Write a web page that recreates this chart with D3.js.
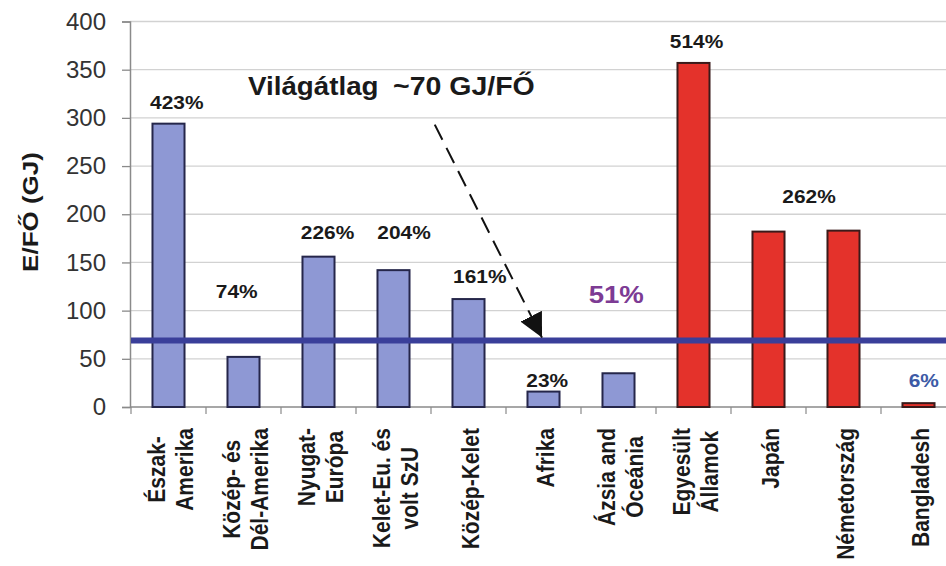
<!DOCTYPE html>
<html>
<head>
<meta charset="utf-8">
<script src="https://cdn.jsdelivr.net/npm/d3@7"></script>
<style>
  body { margin: 0; background: white; }
  svg { display: block; font-family: "Liberation Sans", Arial, sans-serif; }
</style>
</head>
<body>
<div id="chart"></div>
<script>
// categories (line breaks as in the original labels)
var categories = ['Észak-\nAmerika', 'Közép- és\nDél-Amerika', 'Nyugat-\nEurópa', 'Kelet-Eu. és\nvolt SzU',
    'Közép-Kelet', 'Afrika', 'Ázsia and\nÓceánia', 'Egyesült\nÁllamok', 'Japán', 'Németország', 'Bangladesh'];
// energy per capita, GJ
var values = [294, 52, 156, 142, 112, 16, 35, 357, 182, 183, 4];
// which bars are countries (red) and which are regions (blue)
var isCountry = [false, false, false, false, false, false, false, true, true, true, true];
var yTicks = [0, 50, 100, 150, 200, 250, 300, 350, 400];
var worldAvg = 69;

// percent labels: text, position in band units, height in GJ, colour
var pctText = ['423%', '74%', '226%', '204%', '161%', '23%', '51%', '514%', '262%', '6%'];
var pctPos = [0.61, 1.41, 2.62, 3.64, 4.65, 5.55, 6.47, 7.54, 9.04, 10.57];
var pctVal = [309, 113, 174, 174, 129, 21, 108, 372, 212, 21];
var pctColor = ['#1a1a1a', '#1a1a1a', '#1a1a1a', '#1a1a1a', '#1a1a1a', '#1a1a1a', '#7d3b94', '#1a1a1a', '#1a1a1a', '#3d5aa6'];

var svgWidth = 946,
    svgHeight = 566;

var svg = d3.select('#chart').append('svg')
    .attr('width', svgWidth)
    .attr('height', svgHeight)
    .style('background', 'white');

var x = d3.scaleBand()
    .domain(categories)
    .range([131, 956])
    .paddingInner(0.573)
    .paddingOuter(0.2865);

var y = d3.scaleLinear()
    .domain([0, 400])
    .range([407, 21.5]);

// position in band units -> pixels
function bx(u) { return x.range()[0] + u * x.step(); }

// gridlines
svg.append('g')
    .selectAll('line')
    .data(yTicks.slice(1))
    .enter().append('line')
    .attr('x1', 130).attr('x2', svgWidth)
    .attr('y1', d => y(d)).attr('y2', d => y(d))
    .attr('stroke', '#d2d2d2').attr('stroke-width', 1.3);

// y axis
var yAxis = svg.append('g')
    .attr('transform', 'translate(130,0)')
    .call(d3.axisLeft(y).tickValues(yTicks).tickSize(8).tickPadding(16));
yAxis.select('.domain').attr('stroke', '#8a8a8a').attr('stroke-width', 1.5);
yAxis.selectAll('.tick line').attr('stroke', '#8a8a8a').attr('stroke-width', 1.3);
yAxis.selectAll('.tick text')
    .attr('fill', '#333').attr('font-size', '24px')
    .attr('font-family', '"Liberation Sans", Arial, sans-serif');

// x baseline and boundary ticks
svg.append('line')
    .attr('x1', 130).attr('x2', svgWidth)
    .attr('y1', y(0)).attr('y2', y(0))
    .attr('stroke', '#8a8a8a').attr('stroke-width', 1.5);
svg.append('g')
    .selectAll('line')
    .data(d3.range(categories.length + 1))
    .enter().append('line')
    .attr('x1', d => bx(d)).attr('x2', d => bx(d))
    .attr('y1', y(0)).attr('y2', y(0) + 7)
    .attr('stroke', '#8a8a8a').attr('stroke-width', 1.2);

// bars
svg.append('g')
    .selectAll('rect')
    .data(values)
    .enter().append('rect')
    .attr('x', (d, i) => x(categories[i]))
    .attr('y', d => y(d))
    .attr('width', x.bandwidth())
    .attr('height', d => y(0) - y(d))
    .attr('fill', (d, i) => isCountry[i] ? '#e4322b' : '#8e98d4')
    .attr('stroke', (d, i) => isCountry[i] ? '#3a1a1a' : '#25264a')
    .attr('stroke-width', 2);

// world average line
svg.append('line')
    .attr('x1', 131).attr('x2', svgWidth)
    .attr('y1', y(worldAvg)).attr('y2', y(worldAvg))
    .attr('stroke', '#3a3f9a').attr('stroke-width', 6);

// percent labels (text in the original is a bit wide, hence the x scale)
svg.append('g')
    .selectAll('text')
    .data(pctText)
    .enter().append('text')
    .text(d => d)
    .attr('transform', (d, i) => 'translate(' + bx(pctPos[i]) + ',' + y(pctVal[i]) + ') scale(' + (i == 6 ? 1.2 : 1.13) + ',1)')
    .attr('text-anchor', 'middle')
    .attr('font-weight', 'bold')
    .attr('font-size', (d, i) => i == 6 ? '23px' : '18.5px')
    .attr('fill', (d, i) => pctColor[i]);

// world average annotation
svg.append('text')
    .text('Világátlag')
    .attr('transform', 'translate(248,95) scale(1.11,1)')
    .attr('font-weight', 'bold').attr('font-size', '25px').attr('fill', '#1a1a1a');
svg.append('text')
    .text('~70 GJ/FŐ')
    .attr('transform', 'translate(393,95) scale(1.14,1)')
    .attr('font-weight', 'bold').attr('font-size', '25px').attr('fill', '#1a1a1a');

//dashed arrow
svg.append('defs').append('marker')
    .attr('id', 'head')
    .attr('viewBox', '0 0 10 10')
    .attr('refX', 10).attr('refY', 5)
    .attr('markerWidth', 24).attr('markerHeight', 24)
    .attr('markerUnits', 'userSpaceOnUse')
    .attr('orient', 'auto')
    .append('path')
    .attr('d', 'M0,0 L10,5 L0,10 Z')
    .attr('fill', '#111');

svg.append('line')
    .attr('x1', bx(4.05)).attr('y1', y(293))
    .attr('x2', bx(5.48)).attr('y2', y(72))
    .attr('stroke', '#111').attr('stroke-width', 2)
    .attr('stroke-dasharray', '17,9')
    .attr('marker-end', 'url(#head)');

// x labels, rotated, lines centred on the longest one
var labelTop = 428,
    lineGap = 28,
    cap = 16;
categories.forEach(function(c, i) {
    var lines = c.split('\n');
    var cx = x(c) + x.bandwidth() / 2 + 2;
    var g = svg.append('g');
    var texts = lines.map(function(l, j) {
        var base = cx + cap / 2 + (j - (lines.length - 1) / 2) * lineGap;
        return g.append('text')
            .text(l)
            .attr('text-anchor', 'middle')
            .attr('font-weight', 'bold')
            .attr('font-size', '21px')
            .attr('fill', '#1a1a1a')
            .attr('data-base', base);
    });
    var maxLen = d3.max(texts, t => t.node().getComputedTextLength());
    texts.forEach(function(t) {
        t.attr('transform', 'translate(' + t.attr('data-base') + ',' + (labelTop + maxLen / 2) + ') scale(1.12,1) rotate(-90)');
    });
});

// y axis title
svg.append('text')
    .text('E/FŐ (GJ)')
    .attr('text-anchor', 'middle')
    .attr('font-weight', 'bold')
    .attr('font-size', '26px')
    .attr('fill', '#1a1a1a')
    .attr('transform', 'translate(38,212) scale(0.85,1) rotate(-90)');
</script>
</body>
</html>
